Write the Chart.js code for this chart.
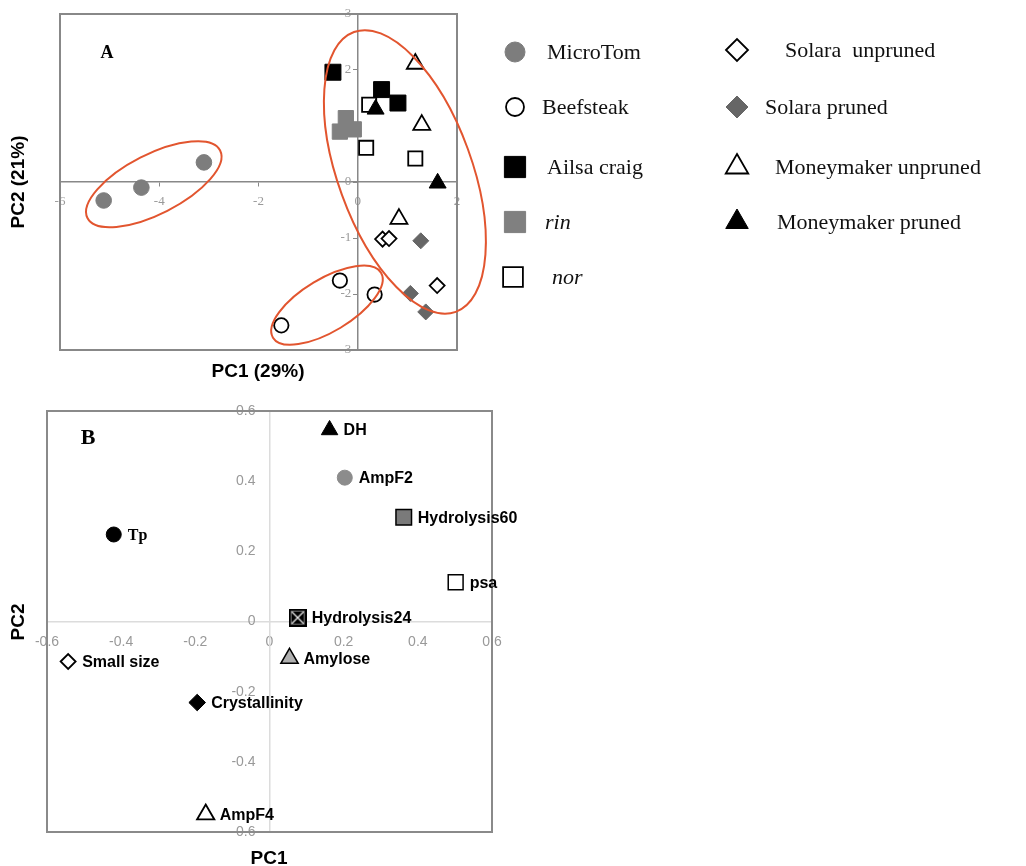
<!DOCTYPE html>
<html>
<head>
<meta charset="utf-8">
<script src="https://cdn.jsdelivr.net/npm/chart.js@4.4.1/dist/chart.umd.min.js"></script>
<style>
  body { margin: 0; background: #fff; }
  #wrap { position: relative; width: 1026px; height: 866px; overflow: hidden; }
  canvas { position: absolute; left: 0; }
  #chartA { top: 0; }
  #chartB { top: 390px; }
  .lbl { position: absolute; transform: translate(-50%, -50%); white-space: nowrap; color: #000; }
  .axis { font: bold 19px "Liberation Sans", Arial, sans-serif; }
  .rot { transform: translate(-50%, -50%) rotate(-90deg); }
  .panel { font-family: "Liberation Serif", "Times New Roman", serif; font-weight: bold; }
</style>
</head>
<body>
<div id="wrap">
  <canvas id="chartA" width="1026" height="385"></canvas>
  <canvas id="chartB" width="1026" height="476"></canvas>
  <div class="lbl panel" style="left:107px;top:52px;font-size:18px">A</div>
  <div class="lbl panel" style="left:88px;top:437px;font-size:22px">B</div>
  <div class="lbl axis" style="left:258px;top:371px">PC1 (29%)</div>
  <div class="lbl axis rot" style="left:18px;top:182px">PC2 (21%)</div>
  <div class="lbl axis" style="left:269px;top:858px">PC1</div>
  <div class="lbl axis rot" style="left:18px;top:622px">PC2</div>
</div>
<script>
// panel A : scores [PC1, PC2] per cultivar
const cultivars = ['MicroTom', 'Beefsteak', 'Ailsa craig', 'rin', 'nor',
  'Solara  unpruned', 'Solara pruned', 'Moneymaker unpruned', 'Moneymaker pruned'];
const microTom = [[-5.12, -0.33], [-4.36, -0.10], [-3.10, 0.35]];
const beefsteak = [[-0.36, -1.76], [0.34, -2.01], [-1.54, -2.56]];
const ailsaCraig = [[-0.50, 1.96], [0.48, 1.65], [0.81, 1.41]];
const rin = [[-0.24, 1.14], [-0.36, 0.90], [-0.08, 0.94]];
const nor = [[0.23, 1.38], [0.17, 0.61], [1.16, 0.42]];
const solaraUnpruned = [[0.50, -1.02], [0.63, -1.01], [1.60, -1.85]];
const solaraPruned = [[1.27, -1.05], [1.06, -1.99], [1.37, -2.32]];
const moneymakerUnpruned = [[1.16, 2.11], [1.29, 1.02], [0.83, -0.66]];
const moneymakerPruned = [[0.36, 1.30], [1.61, -0.02]];

// panel B : loadings
const variables = ['DH', 'AmpF2', 'Hydrolysis60', 'Tp', 'psa', 'Hydrolysis24',
  'Amylose', 'Small size', 'Crystallinity', 'AmpF4'];
const loadPC1 = [0.162, 0.203, 0.362, -0.420, 0.502, 0.076, 0.054, -0.543, -0.195, -0.172];
const loadPC2 = [0.546, 0.410, 0.297, 0.248, 0.112, 0.011, -0.105, -0.114, -0.231, -0.550];

const toPts = arr => arr.map(p => ({x: p[0], y: p[1]}));

// red rings around groups (centre in PC units, semi axes in PC1 units)
const groupEllipses = [
  {cx: -4.11, cy: -0.04, a: 1.50, b: 0.60, tilt: -27},
  {cx: -0.62, cy: -2.20, a: 1.27, b: 0.53, tilt: -31},
  {cx: 0.95, cy: 0.18, a: 3.00, b: 1.35, tilt: 70}
];

// legend placement [markerX, rowY, textX] and marker size
const legendSlots = [
  [515, 52, 547], [515, 107, 542], [515, 167, 547], [515, 222, 545], [513, 277, 552],
  [737, 50, 785], [737, 107, 765], [737, 167, 775], [737, 222, 777]
];
const legendRadius = [10, 9, 15, 15, 14, 11, 11, 13, 13];

const frame = {
  id: 'frame',
  beforeDatasetsDraw(chart, args, opts) {
    const {ctx, chartArea: {left, top, right, bottom}} = chart;
    ctx.save();
    ctx.strokeStyle = opts.color;
    ctx.lineWidth = 2;
    ctx.strokeRect(left, top, right - left, bottom - top);
    ctx.restore();
  }
};

const rings = {
  id: 'rings',
  afterDatasetsDraw(chart) {
    const {ctx, scales: {x, y}} = chart;
    const unit = x.getPixelForValue(1) - x.getPixelForValue(0);
    ctx.save();
    ctx.strokeStyle = '#e2552f';
    ctx.lineWidth = 2;
    groupEllipses.forEach(e => {
      ctx.beginPath();
      ctx.ellipse(x.getPixelForValue(e.cx), y.getPixelForValue(e.cy), e.a * unit, e.b * unit, e.tilt * Math.PI / 180, 0, Math.PI * 2);
      ctx.stroke();
    });
    ctx.restore();
  }
};

const sideLegend = {
  id: 'sideLegend',
  afterDraw(chart) {
    const ctx = chart.ctx;
    ctx.save();
    chart.data.datasets.forEach((ds, i) => {
      const [mx, my, tx] = legendSlots[i];
      ctx.fillStyle = ds.backgroundColor;
      ctx.strokeStyle = ds.borderColor;
      ctx.lineWidth = ds.borderWidth;
      Chart.helpers.drawPoint(ctx, {pointStyle: ds.pointStyle, radius: legendRadius[i], rotation: 0, borderWidth: ds.borderWidth}, mx, my);
      const italic = (ds.label === 'rin' || ds.label === 'nor') ? 'italic ' : '';
      ctx.font = italic + '22px "Liberation Serif", "Times New Roman", serif';
      ctx.fillStyle = '#111';
      ctx.textBaseline = 'middle';
      ctx.textAlign = 'left';
      ctx.fillText(ds.label, tx, my + 1);
    });
    ctx.restore();
  }
};

const styleA = [
  {pointStyle: 'circle', r: 7.8, bg: '#7d7d7d', bd: '#7d7d7d', bw: 1},
  {pointStyle: 'circle', r: 7.2, bg: '#fff', bd: '#000', bw: 1.8},
  {pointStyle: 'rect', r: 11.3, bg: '#000', bd: '#000', bw: 1},
  {pointStyle: 'rect', r: 10.8, bg: '#808080', bd: '#808080', bw: 1},
  {pointStyle: 'rect', r: 10, bg: '#fff', bd: '#000', bw: 1.8},
  {pointStyle: 'rectRot', r: 7.5, bg: '#fff', bd: '#000', bw: 1.8},
  {pointStyle: 'rectRot', r: 8, bg: '#666', bd: '#666', bw: 1},
  {pointStyle: 'triangle', r: 9.8, bg: '#fff', bd: '#000', bw: 1.8},
  {pointStyle: 'triangle', r: 9.8, bg: '#000', bd: '#000', bw: 1}
];
const seriesA = [microTom, beefsteak, ailsaCraig, rin, nor, solaraUnpruned, solaraPruned, moneymakerUnpruned, moneymakerPruned];

const chartA = new Chart(document.getElementById('chartA'), {
  type: 'scatter',
  data: {
    datasets: seriesA.map((s, i) => ({
      label: cultivars[i],
      data: toPts(s),
      pointStyle: styleA[i].pointStyle,
      pointRadius: styleA[i].r,
      backgroundColor: styleA[i].bg,
      borderColor: styleA[i].bd,
      borderWidth: styleA[i].bw,
      order: seriesA.length - i
    }))
  },
  options: {
    responsive: false,
    animation: false,
    events: [],
    layout: {padding: {left: 60, top: 14, right: 569, bottom: 35}},
    scales: {
      x: {
        type: 'linear', min: -6, max: 2, position: {y: 0},
        ticks: {stepSize: 2, autoSkip: false, color: '#999', padding: 8, font: {family: '"Liberation Serif", serif', size: 13}},
        grid: {drawOnChartArea: false, drawTicks: true, tickLength: 4, color: '#888'},
        border: {color: '#888', width: 1.5}
      },
      y: {
        type: 'linear', min: -3, max: 3, position: {x: 0},
        ticks: {stepSize: 1, autoSkip: false, color: '#999', font: {family: '"Liberation Serif", serif', size: 13},
          callback: v => v + '\u2002'},
        grid: {drawOnChartArea: false, drawTicks: true, tickLength: 4, color: '#888'},
        border: {color: '#888', width: 1.5}
      }
    },
    plugins: {legend: {display: false}, tooltip: {enabled: false}, frame: {color: '#888'}}
  },
  plugins: [frame, rings, sideLegend]
});

// marker for Hydrolysis24: black square crossed in white
function crossedSquare(size) {
  const c = document.createElement('canvas');
  c.width = c.height = size;
  const g = c.getContext('2d');
  g.fillStyle = '#000';
  g.fillRect(0, 0, size, size);
  g.strokeStyle = '#eee';
  g.lineWidth = 1.3;
  g.beginPath();
  g.moveTo(3, 3); g.lineTo(size - 3, size - 3);
  g.moveTo(size - 3, 3); g.lineTo(3, size - 3);
  g.stroke();
  g.strokeStyle = '#777';
  g.lineWidth = 1;
  g.strokeRect(2.5, 2.5, size - 5, size - 5);
  return c;
}

const pointLabels = {
  id: 'pointLabels',
  afterDatasetsDraw(chart) {
    const ctx = chart.ctx;
    const meta = chart.getDatasetMeta(0);
    ctx.save();
    ctx.fillStyle = '#000';
    ctx.textBaseline = 'middle';
    ctx.textAlign = 'left';
    meta.data.forEach((pt, i) => {
      const name = variables[i];
      ctx.font = name === 'Tp'
        ? 'bold 16px "Liberation Serif", "Times New Roman", serif'
        : 'bold 16px "Liberation Sans", Arial, sans-serif';
      ctx.fillText(name, pt.x + 14, pt.y + 1);
    });
    ctx.restore();
  }
};

const chartB = new Chart(document.getElementById('chartB'), {
  type: 'scatter',
  data: {
    datasets: [{
      label: 'Loadings',
      data: loadPC1.map((v, i) => ({x: v, y: loadPC2[i]})),
      pointStyle: ['triangle', 'circle', 'rect', 'circle', 'rect', crossedSquare(18), 'triangle', 'rectRot', 'rectRot', 'triangle'],
      pointRadius: [9.5, 7.5, 11, 7.5, 10.5, 9, 10, 7.5, 8.3, 10],
      backgroundColor: ['#000', '#8c8c8c', '#7a7a7a', '#000', '#fff', '#000', '#b0b0b0', '#fff', '#000', '#fff'],
      borderColor: ['#000', '#8c8c8c', '#000', '#000', '#000', '#000', '#000', '#000', '#000', '#000'],
      borderWidth: [1, 1, 1.5, 1, 1.5, 0, 1.5, 1.8, 1, 1.8],
      clip: false
    }]
  },
  options: {
    responsive: false,
    animation: false,
    events: [],
    layout: {padding: {left: 47, top: 21, right: 534, bottom: 34}},
    scales: {
      x: {
        type: 'linear', min: -0.6, max: 0.6, position: {y: 0},
        ticks: {stepSize: 0.2, autoSkip: false, color: '#999', padding: 12, font: {family: '"Liberation Sans", Arial, sans-serif', size: 14}},
        grid: {drawOnChartArea: false, drawTicks: false},
        border: {color: '#dcdcdc', width: 1.5}
      },
      y: {
        type: 'linear', min: -0.6, max: 0.6, position: {x: 0},
        ticks: {stepSize: 0.2, autoSkip: false, color: '#999', font: {family: '"Liberation Sans", Arial, sans-serif', size: 14},
          callback: v => Math.round(v * 10) / 10 + '\u2002\u2002'},
        grid: {drawOnChartArea: false, drawTicks: false},
        border: {color: '#dcdcdc', width: 1.5}
      }
    },
    plugins: {legend: {display: false}, tooltip: {enabled: false}, frame: {color: '#8a8a8a'}}
  },
  plugins: [frame, pointLabels]
});
</script>
</body>
</html>
